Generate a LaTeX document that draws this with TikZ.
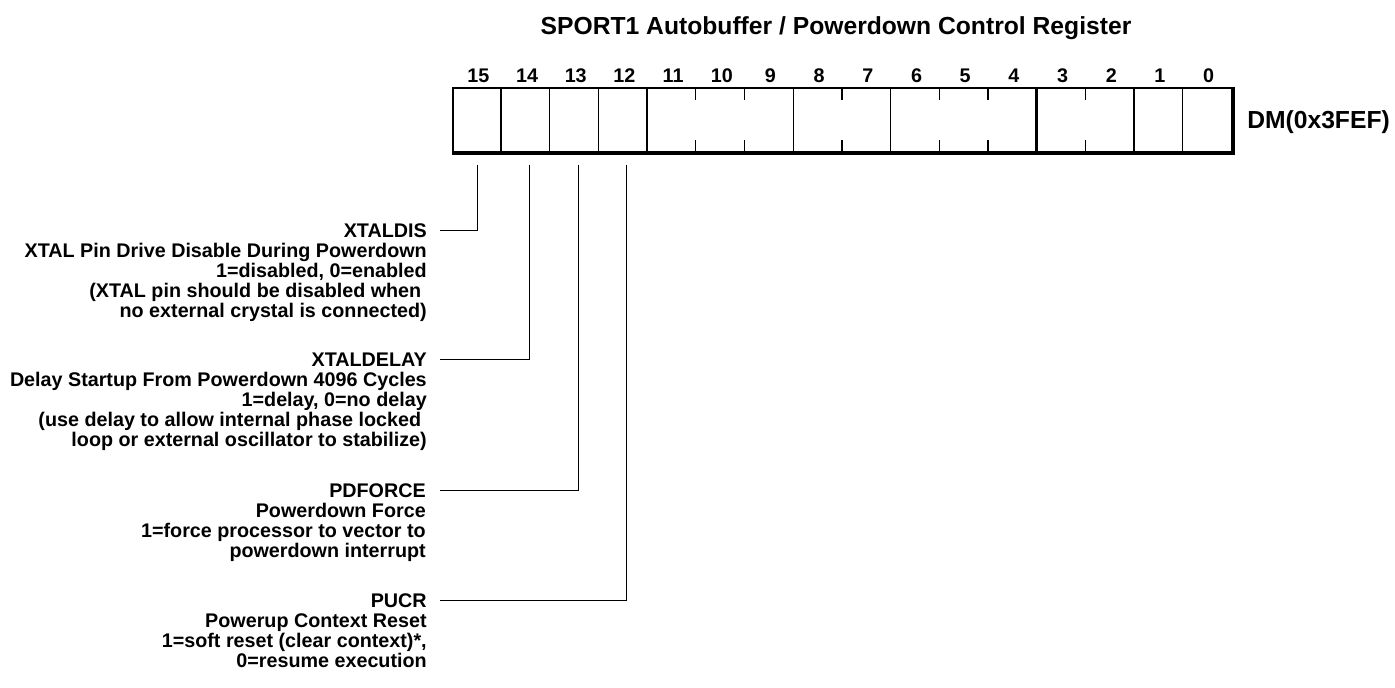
\documentclass[tikz,border=0pt]{standalone}
\usepackage{fontspec}
\setmainfont{Liberation Sans}
\usetikzlibrary{calc}
\begin{document}
\begin{tikzpicture}[x=0.75pt,y=-0.75pt,
  lbl/.style={font=\fontsize{14.8}{15}\selectfont\bfseries, inner sep=0pt},
  body/.style={lbl, align=right},
  big/.style={font=\fontsize{18.5}{22}\selectfont\bfseries, inner sep=0pt},
  thinln/.style={line width=0.9pt},
  thickln/.style={line width=1.9pt},
  callout/.style={line width=1pt}]
\useasboundingbox (0,0) rectangle (1395,687);
% title
\node[big, anchor=base] (title) at (836,34) {SPORT1 Autobuffer / Powerdown Control Register};
% register box
\node[draw, thinln, inner sep=0pt, minimum width=584.25pt, minimum height=48pt] (reg) at (842.5,120) {};
\draw[line width=2.2pt] ($(reg.south west)+(0,0.5)$) -- ($(reg.south east)+(1,0.5)$) -- ($(reg.north east)+(1,0)$);
% full cell lines
\foreach \k in {1,2,3,7,9,14,15}
  \draw[thinln] ($(reg.north west)+(48.6875*\k,0)$) -- ($(reg.south west)+(48.6875*\k,0)$);
\foreach \k in {4,12}
  \draw[thickln] ($(reg.north west)+(48.6875*\k,0)$) -- ($(reg.south west)+(48.6875*\k,0)$);
% short ticks
\foreach \k in {5,6,10,11,13} {
  \draw[thinln] ($(reg.north west)+(48.6875*\k,0)$) -- ++(0,13);
  \draw[thinln] ($(reg.south west)+(48.6875*\k,0)$) -- ++(0,-13);
}
\draw[thickln] ($(reg.north west)+(48.6875*8,0)$) -- ++(0,13);
\draw[thickln] ($(reg.south west)+(48.6875*8,0)$) -- ++(0,-13);
% bit numbers
\foreach \b in {0,...,15}
  \node[lbl, anchor=base] (n\b) at ({454+48.6875*(15.5-\b)},82) {\b};
% address
\node[big, anchor=base west] (dm) at (1247,128) {DM(0x3FEF)};
% descriptions (body nodes anchored at the baseline of their last line)
\node[lbl, anchor=base east] (t15) at (427,237) {XTALDIS};
\node[body, anchor=base east] (d15) at (427,317) {XTAL Pin Drive Disable During Powerdown\\1=disabled, 0=enabled\\(XTAL pin should be disabled when\rule{0.28em}{0pt}\\no external crystal is connected)};
\node[lbl, anchor=base east] (t14) at (427,366) {XTALDELAY};
\node[body, anchor=base east] (d14) at (427,446) {Delay Startup From Powerdown 4096 Cycles\\1=delay, 0=no delay\\(use delay to allow internal phase locked\rule{0.28em}{0pt}\\loop or external oscillator to stabilize)};
\node[lbl, anchor=base east] (t13) at (426,497) {PDFORCE};
\node[body, anchor=base east] (d13) at (426,557) {Powerdown Force\\1=force processor to vector to\\powerdown interrupt};
\node[lbl, anchor=base east] (t12) at (427,607) {PUCR};
\node[body, anchor=base east] (d12) at (427,667) {Powerup Context Reset\\1=soft reset (clear context)*,\\0=resume execution};
% callout connectors
\coordinate (c15) at ($(reg.south west)+(25,12)$);
\coordinate (c14) at ($(reg.south west)+(77,12)$);
\coordinate (c13) at ($(reg.south west)+(126,12)$);
\coordinate (c12) at ($(reg.south west)+(174,12)$);
\draw[callout] (c15) |- ([xshift=9.75pt]t15.east);
\draw[callout] (c14) |- ([xshift=9.75pt]t14.east);
\draw[callout] (c13) |- ([xshift=10.5pt]t13.east);
\draw[callout] (c12) |- ([xshift=9.75pt]t12.east);
\end{tikzpicture}
\end{document}
